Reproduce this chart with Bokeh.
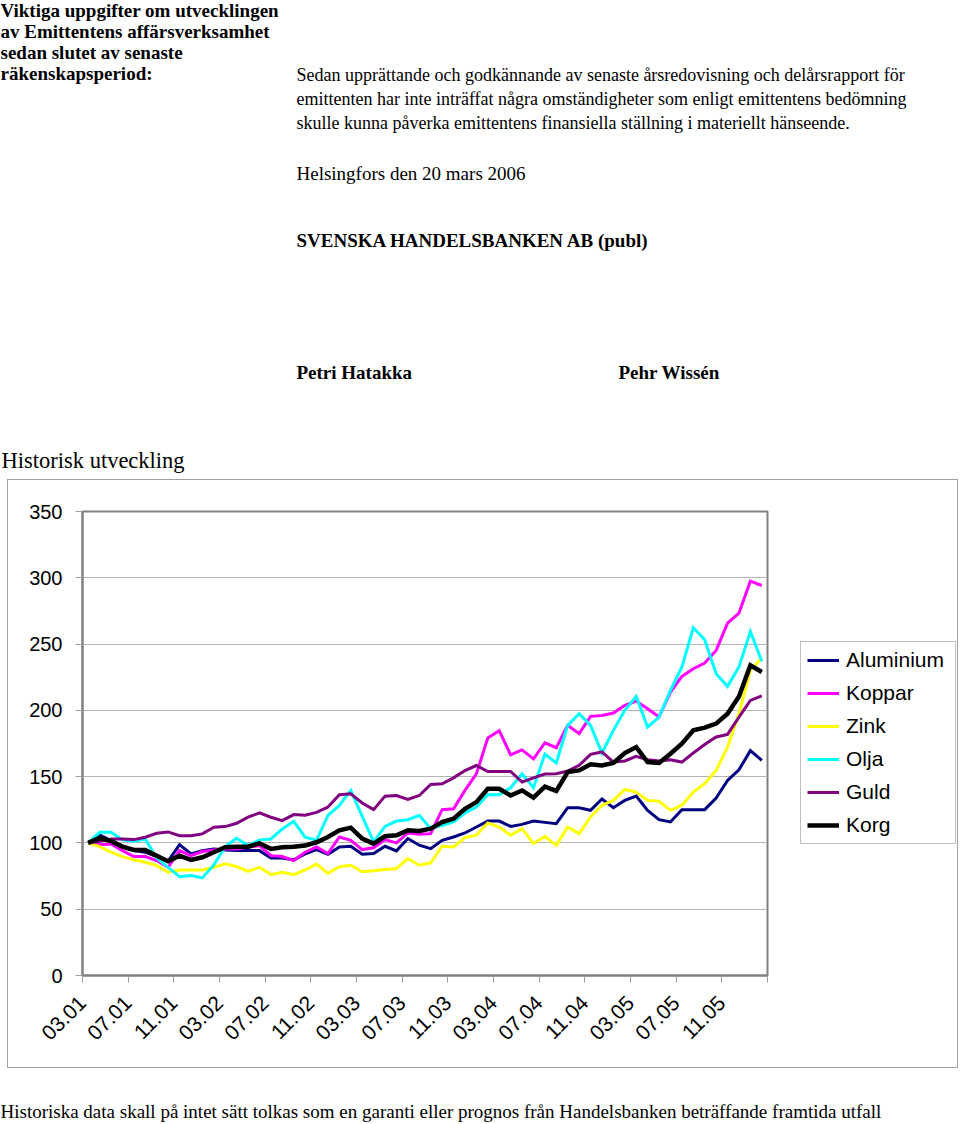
import math
from bokeh.plotting import figure
from bokeh.layouts import column, row
from bokeh.models import Label, Legend, LegendItem, FixedTicker, ColumnDataSource, Range1d
from bokeh.embed import file_html
from bokeh.resources import INLINE

# ---------------- data ----------------
tick_labels = ["03.01", "07.01", "11.01", "03.02", "07.02", "11.02", "03.03", "07.03",
               "11.03", "03.04", "07.04", "11.04", "03.05", "07.05", "11.05"]

series_names = ["Aluminium", "Koppar", "Zink", "Olja", "Guld", "Korg"]

aluminium = [100, 106, 101.8, 97.2, 94.2, 93, 89.7, 86.2, 98.7, 91.7,
             94.2, 95.5, 94.7, 94.2, 94.2, 94.2, 88.7, 88.7, 87.2, 91.7,
             95, 91.5, 97, 97.5, 91.5, 92, 97.5, 94, 103.3, 98.3,
             95.7, 102, 104.5, 107.5, 112, 116.5, 116.5, 112.5, 114, 116.5,
             115.5, 114.5, 126.6, 126.6, 124.6, 133.1, 126.6, 132.1, 135.4, 124.6,
             117.6, 115.8, 125.1, 125.1, 125.1, 133.9, 147.2, 155.2, 169.6, 162.3]

koppar = [100, 98.7, 99.2, 94.2, 89.7, 89.7, 86.7, 81.6, 94.2, 90.4,
          93.5, 94.7, 95.5, 95.5, 96.7, 98, 90.4, 89.7, 86.7, 93,
          97, 92, 104.5, 102, 95, 96.3, 102.5, 100, 107.5, 106.5,
          107, 125.1, 125.8, 139.6, 152.1, 179.2, 184.7, 166.4, 170.2, 163.4,
          175.5, 171.8, 188.7, 182.4, 195.5, 196.2, 198, 203.8, 207, 201.2,
          195, 213.8, 225.6, 231.4, 235.7, 245.2, 265.8, 273.4, 297.5, 294.2]

zink = [100, 97.2, 93, 89.7, 87.2, 85.4, 82.9, 77.9, 79.6, 79.6,
        79.6, 81.6, 84.2, 82.2, 78.6, 81.6, 76.1, 77.9, 76.1, 79.6,
        84, 77, 82, 83.2, 78.2, 79, 80, 80.7, 88.2, 83.2,
        85, 97.5, 97, 104, 105.8, 115, 112, 105.8, 110.8, 99.5,
        105, 98.2, 112, 107, 119.6, 128.4, 132.1, 140.4, 138.4, 132.1,
        131.4, 124.6, 128.4, 138.4, 144.7, 154.7, 172.3, 197.5, 230.1, 239.7]

olja = [100, 108, 108, 102.3, 101.3, 103, 88.7, 81.6, 74.6, 75.4,
        73.6, 83.4, 97.2, 103.5, 98, 102.3, 103, 110.6, 116.3, 104.3,
        102, 120.8, 128.3, 139.6, 120, 100.8, 112.5, 116.5, 117.5, 120.8,
        110.8, 113.3, 115.8, 122.6, 127.1, 136.3, 136.3, 141.6, 152.1, 141.6,
        167, 160.3, 188.7, 197.5, 188.7, 167.8, 184.9, 200, 210.5, 187.4,
        195, 215, 232.7, 262.3, 253.3, 227.6, 218.1, 232.7, 259.5, 237]

guld = [100, 101.3, 103, 103, 102.5, 104.3, 107.3, 108.3, 105.5, 105.5,
        106.8, 111.8, 112.3, 114.8, 119.4, 122.6, 119.4, 116.8, 121.4, 120.9,
        123, 127.1, 136.3, 137.1, 130.1, 125.1, 135.3, 135.8, 132.8, 135.8,
        144.1, 144.6, 149.1, 154.6, 158.4, 153.9, 153.9, 153.9, 145.9, 149.1,
        152, 152.2, 154.2, 158.5, 166.8, 168.6, 161, 161.8, 165.3, 162.8,
        161.8, 162.8, 161, 167.8, 174.3, 179.9, 181.9, 194.9, 207.5, 211]

korg = [100, 103.8, 101.3, 97.2, 94.7, 94.7, 90.4, 86.2, 90.4, 87.2,
        89.2, 93, 96.7, 97.2, 97.2, 99.7, 95.5, 96.7, 97.2, 98,
        100.5, 104.5, 109.5, 111.5, 103.3, 99.5, 105, 105.8, 109.5, 109,
        110.8, 115.8, 118.3, 125.8, 130.8, 140.9, 140.9, 135.8, 139.6, 134.1,
        142.4, 139.2, 153.5, 154.7, 159.3, 158.5, 160.3, 167.8, 172.3, 161,
        160.3, 167.3, 174.9, 185, 187, 190, 197.5, 210.5, 233.9, 228.9]

y_ticks = [0, 50, 100, 150, 200, 250, 300, 350]

# ---------------- styles ----------------
colors = ["#000080", "#FF00FF", "#FFFF00", "#00FFFF", "#800080", "#000000"]
widths = [3, 3, 3, 3, 3, 4.5]
SANS = "Liberation Sans"
SERIF = "Liberation Serif"
PAGE_W = 960


def text_panel(height):
    f = figure(width=PAGE_W, height=height, title=None,
               x_range=Range1d(0, PAGE_W), y_range=Range1d(height, 0),
               x_axis_location=None, y_axis_location=None,
               output_backend="svg", toolbar_location=None,
               min_border=0, min_border_left=0, min_border_right=0,
               min_border_top=0, min_border_bottom=0, frame_align=False)
    f.grid.visible = False
    f.outline_line_color = None
    return f


def lab(f, text, x, y, size="19px", bold=False, font=SERIF):
    f.add_layout(Label(x=x, y=y, text=text, text_font=font, text_font_size=size,
                       text_font_style="bold" if bold else "normal",
                       text_align="left", text_baseline="middle", text_color="black"))


# ---------------- top text block (page y 0..479) ----------------
TOP_H = 479
top = text_panel(TOP_H)
left_block = ["Viktiga uppgifter om utvecklingen", "av Emittentens affärsverksamhet",
              "sedan slutet av senaste", "räkenskapsperiod:"]
for k, t in enumerate(left_block):
    lab(top, t, 0, 10 + 21 * k, bold=True)

right_block = ["Sedan upprättande och godkännande av senaste årsredovisning och delårsrapport för",
               "emittenten har inte inträffat några omständigheter som enligt emittentens bedömning",
               "skulle kunna påverka emittentens finansiella ställning i materiellt hänseende."]
for k, t in enumerate(right_block):
    lab(top, t, 296, 74 + 24 * k, size="18px")

lab(top, "Helsingfors den 20 mars 2006", 296, 173)
lab(top, "SVENSKA HANDELSBANKEN AB (publ)", 296, 240, bold=True)
lab(top, "Petri Hatakka", 296, 372, bold=True)
lab(top, "Pehr Wissén", 618, 372, bold=True)
lab(top, "Historisk utveckling", 1, 460, size="22.5px")

# ---------------- chart (outer box page x 7..958, y 479..1068) ----------------
OX, OY = 8, 480            # page position of the canvas origin (inside 1px border)
PW, CH = 761, 587
p = figure(width=PW, height=CH, title=None, x_range=(0, 60), y_range=(0, 350),
           output_backend="svg", toolbar_location=None, frame_align=False,
           min_border_left=82 - OX, min_border_top=511 - OY,
           min_border_right=(OX + PW) - 767, min_border_bottom=(OY + CH) - 975,
           background_fill_color="white", border_fill_color="white")

n = len(korg)
xs = [i + 0.5 for i in range(n)]
all_series = [aluminium, koppar, zink, olja, guld, korg]
for name, ys, c, w in zip(series_names, all_series, colors, widths):
    src = ColumnDataSource(dict(x=xs, y=ys))
    p.line("x", "y", source=src, line_color=c, line_width=w, line_join="miter")

p.xaxis.ticker = FixedTicker(ticks=[4 * k for k in range(len(tick_labels) + 1)])
ov = {4 * k: lab_ for k, lab_ in enumerate(tick_labels)}
ov[4 * len(tick_labels)] = ""
p.xaxis.major_label_overrides = ov
p.xaxis.major_label_orientation = math.pi / 4
p.yaxis.ticker = FixedTicker(ticks=y_ticks)
for ax in (p.xaxis, p.yaxis):
    ax.axis_line_color = "#808080"
    ax.axis_line_width = 2
    ax.major_tick_line_color = "#a0a0a0"
    ax.major_tick_out = 7
    ax.major_tick_in = 0
    ax.minor_tick_line_color = None
    ax.major_label_text_font = SANS
    ax.major_label_text_font_size = "20px"
    ax.major_label_text_color = "black"
p.xaxis.major_label_text_font_size = "21px"
p.yaxis.major_label_standoff = 13
p.xaxis.major_label_standoff = 17
p.xgrid.visible = False
p.ygrid.grid_line_color = "#b4b4b4"
p.ygrid.grid_line_width = 1
p.outline_line_color = "#808080"
p.outline_line_width = 2

# legend panel (right part of the chart box)
LW = 949 - PW
lg = figure(width=LW, height=CH, title=None, x_range=Range1d(0, 1), y_range=Range1d(0, 1),
            x_axis_location=None, y_axis_location=None,
            output_backend="svg", toolbar_location=None, frame_align=False,
            min_border=0, min_border_left=0, min_border_right=0,
            min_border_top=0, min_border_bottom=0)
lg.grid.visible = False
lg.outline_line_color = None
leg_renderers = [lg.line(x=[-5, -4], y=[-5, -5], line_color=c, line_width=w)
                 for c, w in zip(colors, widths)]
legend = Legend(items=[LegendItem(label=nm, renderers=[r]) for nm, r in zip(series_names, leg_renderers)],
                location=(800 - (OX + PW), (OY + CH) - 844),
                label_text_font=SANS, label_text_font_size="21px", label_text_color="black",
                border_line_color="#808080", border_line_width=1, padding=6, spacing=9,
                glyph_width=32, glyph_height=20, label_height=20, label_width=103,
                label_standoff=7, margin=0, background_fill_color="white")
lg.add_layout(legend)

chart = row(p, lg, spacing=0, styles={"border": "1px solid #a0a0a0"})
chart.margin = (0, 0, 0, 7)

# ---------------- bottom text (page y 1068..1123) ----------------
BOT_H = 55
bottom = text_panel(BOT_H)
lab(bottom, "Historiska data skall på intet sätt tolkas som en garanti eller prognos från Handelsbanken beträffande framtida utfall",
    0, 1111 - 1068)

page = column(top, chart, bottom, spacing=0)
open("out.html", "w").write(file_html(page, INLINE))
